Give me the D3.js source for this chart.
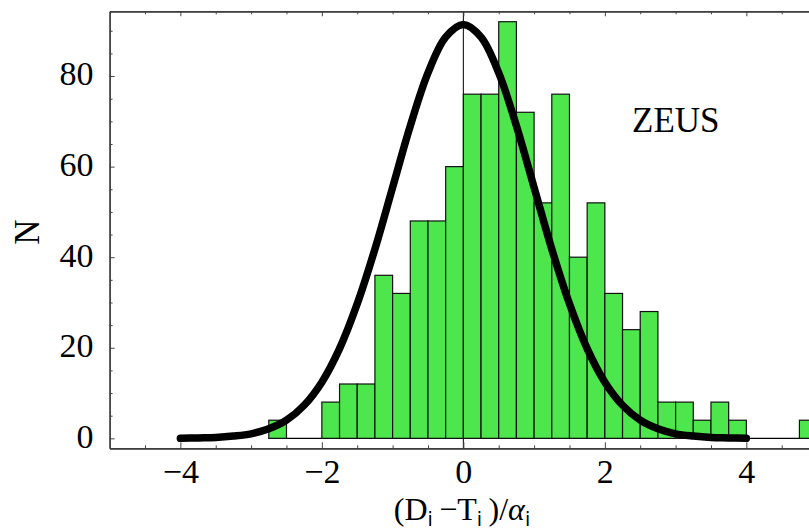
<!DOCTYPE html>
<html>
<head>
<meta charset="utf-8">
<script src="https://cdn.jsdelivr.net/npm/d3@7"></script>
<style>
  body { margin: 0; background: #fff; }
  svg { display: block; font-family: "Liberation Serif", "Times New Roman", serif; }
</style>
</head>
<body>
<svg id="viz" width="809" height="531"></svg>
<script>
// histogram bins (lower edge), width 0.25
let binStarts = [-2.75, -2.5, -2.25, -2, -1.75, -1.5, -1.25, -1, -0.75, -0.5, -0.25,
                 0, 0.25, 0.5, 0.75, 1, 1.25, 1.5, 1.75, 2, 2.25, 2.5, 2.75,
                 3, 3.25, 3.5, 3.75, 4, 4.25, 4.5, 4.75];
let counts = [4, 0, 0, 8, 12, 12, 36, 32, 48, 48, 60,
              76, 76, 92, 72, 52, 76, 40, 52, 32, 24, 28, 8,
              8, 4, 8, 4, 0, 0, 0, 4];
let binWidth = 0.25;

// gaussian curve
let curveX = [-4, -3.75, -3.5, -3.25, -3, -2.75, -2.5, -2.25, -2, -1.75, -1.5, -1.25, -1, -0.75, -0.5, -0.25,
              0, 0.25, 0.5, 0.75, 1, 1.25, 1.5, 1.75, 2, 2.25, 2.5, 2.75, 3, 3.25, 3.5, 3.75, 4];
let curveY = [0, 0.1, 0.2, 0.5, 1.0, 2.1, 4.0, 7.3, 12.4, 19.8, 29.7, 41.8, 55.4, 69.0, 80.7, 88.6,
              91.4, 88.6, 80.7, 69.0, 55.4, 41.8, 29.7, 19.8, 12.4, 7.3, 4.0, 2.1, 1.0, 0.5, 0.2, 0.1, 0];

let xMajor = [-4, -2, 0, 2, 4];
let xMinor = [-4.5, -3.5, -3, -2.5, -1.5, -1, -0.5, 0.5, 1, 1.5, 2.5, 3, 3.5, 4.5];
let yMajor = [0, 20, 40, 60, 80];
let yMinor = [5, 10, 15, 25, 30, 35, 45, 50, 55, 65, 70, 75, 85, 90];

let svg = d3.select("#viz");

let plotLeft = 109.6, plotTop = 11.3, plotBottom = 448.3;

let x = d3.scaleLinear().domain([-5, 5]).range([plotLeft, 817.1]);
let y = d3.scaleLinear().domain([-2.2, 94.3]).range([plotBottom, plotTop]);

// vertical axis through origin
svg.append("line")
    .attr("x1", x(0)).attr("x2", x(0))
    .attr("y1", plotTop).attr("y2", plotBottom)
    .attr("stroke", "#000")
    .attr("stroke-width", 1);

// zero baseline of the histogram
svg.append("line")
    .attr("x1", x(binStarts[0])).attr("x2", x(binStarts[binStarts.length - 1] + binWidth))
    .attr("y1", y(0)).attr("y2", y(0))
    .attr("stroke", "#000")
    .attr("stroke-width", 1.3);

// bars
svg.append("g")
    .selectAll("rect")
    .data(binStarts.map((s, i) => ({start: s, n: counts[i]})).filter(d => d.n > 0))
    .enter()
    .append("rect")
    .attr("x", d => x(d.start))
    .attr("y", d => y(d.n))
    .attr("width", d => x(d.start + binWidth) - x(d.start))
    .attr("height", d => y(0) - y(d.n))
    .attr("fill", "#4de64d")
    .attr("stroke", "#111")
    .attr("stroke-width", 1.2);

// curve
let line = d3.line()
    .x((d, i) => x(curveX[i]))
    .y(d => y(d))
    .curve(d3.curveCatmullRom);

svg.append("path")
    .attr("d", line(curveY))
    .attr("fill", "none")
    .attr("stroke", "#000")
    .attr("stroke-width", 7.5)
    .attr("stroke-linecap", "round")
    .attr("stroke-linejoin", "round");

// frame axes
function styleAxis(g)
{
    g.select(".domain").attr("stroke", "#333").attr("stroke-width", 1.2);
    g.selectAll(".tick line").attr("stroke", "#444").attr("stroke-width", 1);
    g.selectAll(".tick text").attr("fill", "#000").style("font-size", "34px")
        .style("font-family", "'Liberation Serif', 'Times New Roman', serif");
}

svg.append("g")
    .attr("transform", "translate(0," + plotBottom + ")")
    .call(d3.axisBottom(x).tickValues(xMajor).tickSize(-6).tickSizeOuter(0).tickPadding(11))
    .call(styleAxis);

svg.append("g")
    .attr("transform", "translate(0," + plotBottom + ")")
    .call(d3.axisBottom(x).tickValues(xMinor).tickSize(-3).tickSizeOuter(0).tickFormat(""))
    .call(styleAxis);

svg.append("g")
    .attr("transform", "translate(0," + plotTop + ")")
    .call(d3.axisTop(x).tickValues(xMajor).tickSize(-5).tickSizeOuter(0).tickFormat(""))
    .call(styleAxis);

svg.append("g")
    .attr("transform", "translate(0," + plotTop + ")")
    .call(d3.axisTop(x).tickValues(xMinor).tickSize(-3).tickSizeOuter(0).tickFormat(""))
    .call(styleAxis);

svg.append("g")
    .attr("transform", "translate(" + plotLeft + ",0)")
    .call(d3.axisLeft(y).tickValues(yMajor).tickSize(-5).tickSizeOuter(0).tickPadding(16))
    .call(styleAxis)
    .call(g => g.selectAll(".tick text").attr("dy", "0.26em"));

svg.append("g")
    .attr("transform", "translate(" + plotLeft + ",0)")
    .call(d3.axisLeft(y).tickValues(yMinor).tickSize(-3).tickSizeOuter(0).tickFormat(""))
    .call(styleAxis);

// labels
svg.append("text")
    .attr("transform", "translate(39,232) rotate(-90)")
    .attr("text-anchor", "middle")
    .style("font-size", "35px")
    .text("N");

svg.append("text")
    .attr("x", 632)
    .attr("y", 132)
    .style("font-size", "35px")
    .text("ZEUS");

let xl = svg.append("text")
    .attr("x", 462)
    .attr("y", 520)
    .attr("text-anchor", "middle")
    .style("font-size", "32px");

let subFont = "'DejaVu Sans', sans-serif";
xl.append("tspan").text("(D");
xl.append("tspan").attr("dy", 6).style("font-size", "19px").style("font-family", subFont).text("i");
xl.append("tspan").attr("dy", -6).text("\u2009\u2212T");
xl.append("tspan").attr("dy", 6).style("font-size", "19px").style("font-family", subFont).text("i");
xl.append("tspan").attr("dy", -6).text("\u2009)/");
xl.append("tspan").style("font-style", "italic").text("\u03b1");
xl.append("tspan").attr("dy", 6).style("font-size", "19px").style("font-family", subFont).text("i");
</script>
</body>
</html>
